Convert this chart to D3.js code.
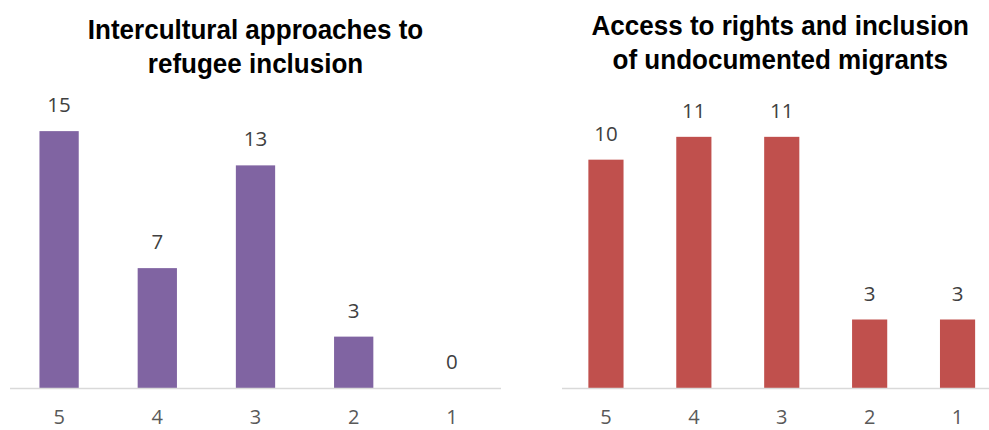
<!DOCTYPE html>
<html>
<head>
<meta charset="utf-8">
<script src="https://cdn.jsdelivr.net/npm/d3@7"></script>
<style>
  html, body { margin: 0; padding: 0; background: #fff; }
</style>
</head>
<body>
<div id="chart"></div>
<script>
const width = 989;
const height = 430;

// data
const categories = ["5", "4", "3", "2", "1"];
const refugeeValues = [15, 7, 13, 3, 0];
const undocumentedValues = [10, 11, 11, 3, 3];
const refugeeTitle = ["Intercultural approaches to", "refugee inclusion"];
const undocumentedTitle = ["Access to rights and inclusion", "of undocumented migrants"];

const svg = d3.select("#chart")
  .append("svg")
  .attr("width", width)
  .attr("height", height);

const baseline = 388;

function panel(opts) {
  const g = svg.append("g");

  const x = d3.scaleBand()
    .domain(categories)
    .range(opts.xRange)
    .paddingInner(0.6)
    .paddingOuter(0.3);

  const y = d3.scaleLinear()
    .domain([0, opts.yMax])
    .range([baseline, 114]);

  const rows = categories.map((c, i) => ({ cat: c, value: opts.values[i] }));

  // title (condensed bold look)
  const cx = (opts.xRange[0] + opts.xRange[1]) / 2 + opts.titleShift;
  const title = g.append("g")
    .attr("transform", `translate(${cx},0) scale(0.93,1)`);
  title.selectAll("text")
    .data(opts.title)
    .join("text")
    .attr("x", 0)
    .attr("y", (d, i) => opts.titleY + i * 34)
    .attr("text-anchor", "middle")
    .attr("font-family", "'Liberation Sans', Arial, sans-serif")
    .attr("font-weight", "bold")
    .attr("font-size", "28px")
    .attr("fill", "#000")
    .text(d => d);

  g.append("g")
    .selectAll("rect")
    .data(rows)
    .join("rect")
    .attr("x", d => x(d.cat))
    .attr("width", x.bandwidth())
    .attr("y", d => y(d.value))
    .attr("height", d => y(0) - y(d.value))
    .attr("fill", opts.color);

  // x axis line
  g.append("line")
    .attr("x1", opts.xRange[0])
    .attr("x2", opts.xRange[1])
    .attr("y1", y(0) + 0.5)
    .attr("y2", y(0) + 0.5)
    .attr("stroke", "#d9d9d9")
    .attr("stroke-width", 1.5);

  g.append("g")
    .selectAll("text")
    .data(rows)
    .join("text")
    .attr("x", d => x(d.cat) + x.bandwidth() / 2)
    .attr("y", d => y(d.value) - 19)
    .attr("text-anchor", "middle")
    .attr("font-family", "'Open Sans', sans-serif")
    .attr("font-size", "20.5px")
    .attr("fill", "#404040")
    .text(d => d.value);

  g.append("g")
    .selectAll("text")
    .data(categories)
    .join("text")
    .attr("x", d => x(d) + x.bandwidth() / 2)
    .attr("y", baseline + 36)
    .attr("text-anchor", "middle")
    .attr("font-family", "'Open Sans', sans-serif")
    .attr("font-size", "20px")
    .attr("fill", "#595959")
    .text(d => d);
}

panel({
  values: refugeeValues,
  title: refugeeTitle,
  color: "#8064A2",
  xRange: [10, 501],
  yMax: 16,
  titleY: 39,
  titleShift: 0
});

panel({
  values: undocumentedValues,
  title: undocumentedTitle,
  color: "#C0504D",
  xRange: [562, 1001.5],
  yMax: 12,
  titleY: 35,
  titleShift: -1.5
});
</script>
</body>
</html>
